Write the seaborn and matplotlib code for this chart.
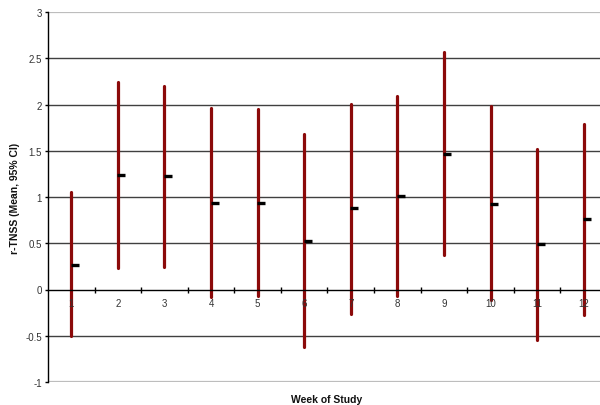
import numpy as np
import pandas as pd
import matplotlib
matplotlib.use("Agg")
import matplotlib.pyplot as plt
import seaborn as sns
from matplotlib.ticker import FixedLocator

weeks = [1, 2, 3, 4, 5, 6, 7, 8, 9, 10, 11, 12]
mean_vals = [0.27, 1.24, 1.225, 0.937, 0.937, 0.526, 0.876, 1.009, 1.467, 0.926, 0.497, 0.757]
ci_low = [-0.505, 0.235, 0.24, -0.08, -0.07, -0.62, -0.263, -0.07, 0.37, -0.11, -0.545, -0.277]
ci_high = [1.05, 2.245, 2.205, 1.964, 1.946, 1.683, 2.007, 2.094, 2.57, 1.986, 1.524, 1.784]
y_ticks = [-1, -0.5, 0, 0.5, 1, 1.5, 2, 2.5, 3]
y_tick_labels = ["-1", "-0.5", "0", "0.5", "1", "1.5", "2", "2.5", "3"]

sns.set_theme(style="white")
plt.rcParams['font.family'] = ['Liberation Sans', 'DejaVu Sans']

fig = plt.figure(figsize=(6.0, 4.06), dpi=100)
ax = fig.add_axes([48/600, 23/406, 559/600, 370/406])
ax.set_axisbelow(False)

# gridlines
for v in y_ticks:
    if v in (-1, 3):
        ax.axhline(v, color='#bdbdbd', lw=1.6, zorder=0)
    elif v != 0:
        ax.axhline(v, color='#404040', lw=1.0, zorder=0)

ci_df = pd.DataFrame({
    'week': weeks + weeks,
    'value': ci_low + ci_high,
})
sns.lineplot(data=ci_df, x='week', y='value', units='week', estimator=None,
             color='#8B0A0A', lw=2.3, ax=ax, zorder=2, legend=False)

mean_df = pd.DataFrame({'pos': np.array(weeks) + 0.075, 'mean': mean_vals})
sns.scatterplot(data=mean_df, x='pos', y='mean', marker='_', s=30,
                linewidth=2.4, color='black', ax=ax, zorder=4, legend=False)

ax.set_xlim(0.5, 12.5)
ax.set_ylim(-1, 3)

for s in ['top', 'right']:
    ax.spines[s].set_visible(False)
ax.spines['left'].set_color('black')
ax.spines['left'].set_linewidth(1.0)
ax.spines['bottom'].set_position(('data', 0))
ax.spines['bottom'].set_color('black')
ax.spines['bottom'].set_linewidth(1.0)

ax.set_xticks(weeks)
ax.set_xticklabels([str(w) for w in weeks])
ax.xaxis.set_minor_locator(FixedLocator([w + 0.5 for w in weeks[:-1]]))
ax.tick_params(axis='x', which='major', length=0, pad=6, labelsize=7, labelcolor='#333333')
ax.tick_params(axis='x', which='minor', bottom=True, direction='inout', length=5, width=1, color='black')

ax.set_yticks(y_ticks)
ax.set_yticklabels(y_tick_labels)
ax.tick_params(axis='y', which='major', left=True, direction='out', length=2.5, width=1,
               color='black', pad=2, labelsize=7, labelcolor='#333333')

ax.set_xlabel('')
ax.set_ylabel('')
fig.text(327/600, 1 - 400/406, 'Week of Study', ha='center', va='center',
         fontsize=7.5, fontweight='bold', color='#111111')
fig.text(15/600, 1 - 198/406, 'r-TNSS (Mean, 95% CI)', ha='center', va='center',
         rotation=90, fontsize=7.5, fontweight='bold', color='#111111')

fig.savefig('out.png', dpi=100)
